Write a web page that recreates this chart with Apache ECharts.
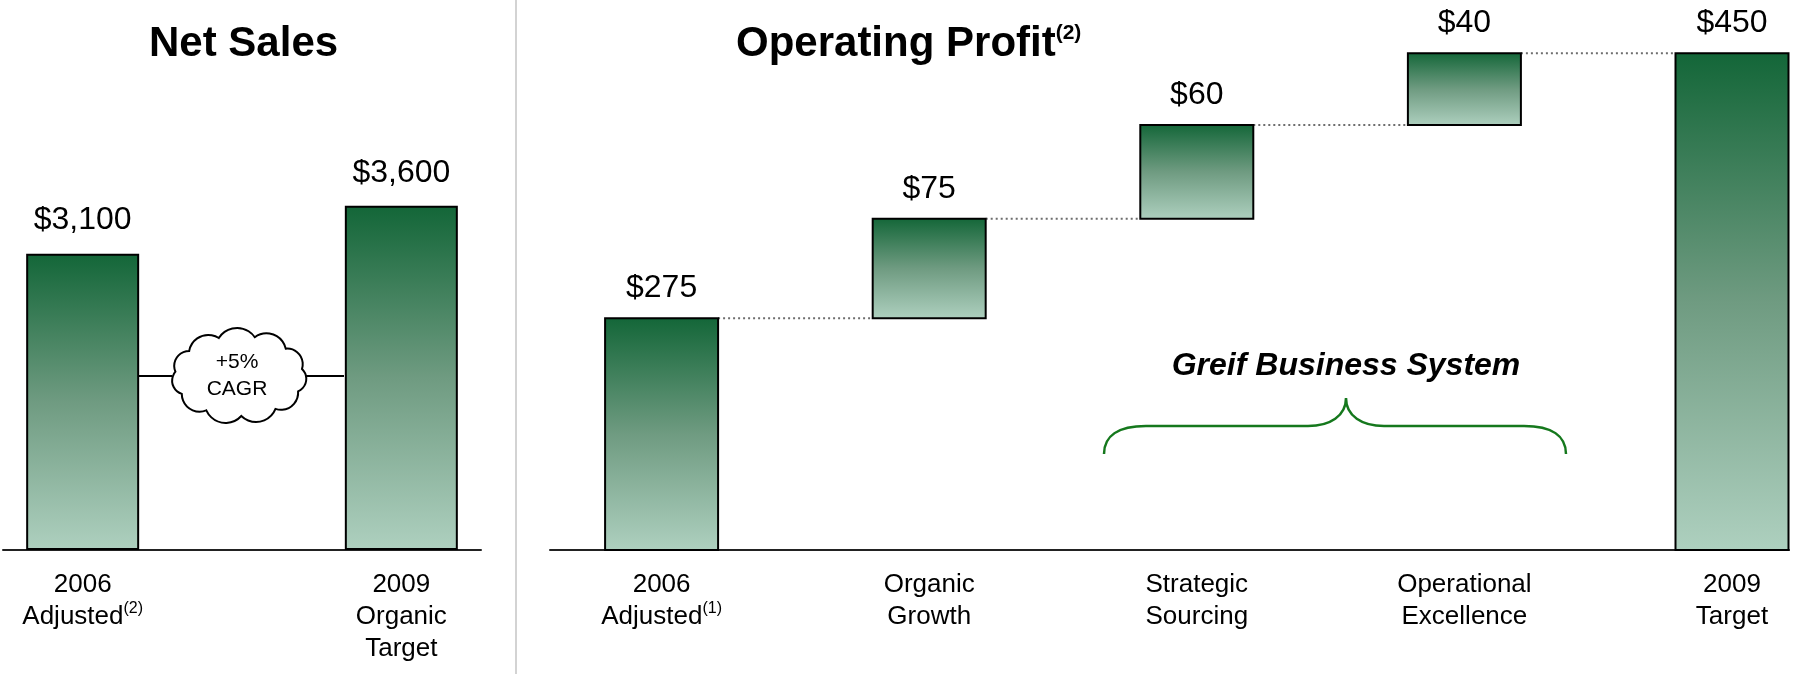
<!DOCTYPE html>
<html>
<head>
<meta charset="utf-8">
<title>Net Sales / Operating Profit</title>
<script src="https://cdn.jsdelivr.net/npm/echarts@6/dist/echarts.min.js"></script>
<style>
  html, body { margin: 0; padding: 0; background: #fff; }
  #chart { width: 1795px; height: 674px; }
</style>
</head>
<body>
<div id="chart"></div>
<script>
// Net Sales ($M) - the middle slot holds the CAGR callout
const salesCategories = ['2006\nAdjusted{sup|(2)}', '', '2009\nOrganic\nTarget'];
const salesValues = [3100, '-', 3600];

// Operating Profit bridge ($M)
const opCategories = ['2006\nAdjusted{sup|(1)}', 'Organic\nGrowth', 'Strategic\nSourcing', 'Operational\nExcellence', '2009\nTarget'];
const opValues = [275, 75, 60, 40, 450];
const opIsTotal = [true, false, false, false, true];
// the slide is not drawn to scale: bar heights
const opDrawnSteps = [210, 90, 85, 65, 450];

const FONT = '"Liberation Sans", Arial, Helvetica, sans-serif';

function barFill() {
  return new echarts.graphic.LinearGradient(0, 0, 0, 1, [
    { offset: 0, color: '#136638' },
    { offset: 0.5, color: '#6f9b81' },
    { offset: 1, color: '#aed0bf' }
  ]);
}

function money(v) {
  return '$' + String(v).replace(/\B(?=(\d{3})+(?!\d))/g, ',');
}

// waterfall rows: [index, low, high, labelValue]
let run = 0;
const opRows = opValues.map((v, i) => {
  let lo, hi;
  if (opIsTotal[i]) {
    lo = 0;
    hi = opDrawnSteps[i];
  } else {
    lo = run;
    hi = run + opDrawnSteps[i];
  }
  run = hi;
  return [i, lo, hi, v];
});

function cloudPath(cx, cy, rx, ry, n) {
  const pts = [];
  for (let k = 0; k < n; k++) {
    const a = -Math.PI / 2 + 0.25 + (2 * Math.PI * k) / n;
    pts.push([cx + rx * Math.cos(a), cy + ry * Math.sin(a)]);
  }
  let d = 'M' + pts[0][0].toFixed(1) + ',' + pts[0][1].toFixed(1);
  for (let k = 0; k < n; k++) {
    const p = pts[k], q = pts[(k + 1) % n];
    const r = Math.hypot(q[0] - p[0], q[1] - p[1]) * 0.6;
    d += ' A' + r.toFixed(1) + ',' + r.toFixed(1) + ' 0 0 1 ' + q[0].toFixed(1) + ',' + q[1].toFixed(1);
  }
  return d + ' Z';
}

const labelRich = {
  sup: { fontSize: 16, fontFamily: FONT, color: '#000', verticalAlign: 'top', lineHeight: 30 }
};

const BAR_W = 113;

const chart = echarts.init(document.getElementById('chart'));
chart.setOption({
  backgroundColor: '#fff',
  animation: false,
  title: [
    {
      text: 'Net Sales',
      left: 149,
      top: 23,
      padding: 0,
      textStyle: { fontSize: 42, fontWeight: 'bold', fontFamily: FONT, color: '#000', lineHeight: 42 }
    },
    {
      text: 'Operating Profit{sup|(2)}',
      left: 736,
      top: 23,
      padding: 0,
      textStyle: {
        fontSize: 42, fontWeight: 'bold', fontFamily: FONT, color: '#000', lineHeight: 42,
        rich: { sup: { fontSize: 21, fontWeight: 'bold', fontFamily: FONT, color: '#000', verticalAlign: 'top', lineHeight: 38 } }
      }
    }
  ],
  grid: [
    { left: 3, width: 478, top: 72, bottom: 124 },
    { left: 550, right: 6, top: 20, bottom: 124 }
  ],
  xAxis: [
    {
      type: 'category',
      gridIndex: 0,
      data: salesCategories,
      axisTick: { show: false },
      axisLine: { lineStyle: { color: '#222', width: 2 } },
      axisLabel: {
        margin: 19, fontSize: 26, lineHeight: 32, color: '#000', fontFamily: FONT,
        interval: 0, rich: labelRich
      }
    },
    {
      type: 'value',
      gridIndex: 1,
      min: -0.417,
      max: 4.213,
      splitLine: { show: false },
      axisTick: { show: false },
      axisLine: { show: true, lineStyle: { color: '#222', width: 2 } },
      axisLabel: {
        customValues: [0, 1, 2, 3, 4],
        formatter: (v) => (Number.isInteger(v) ? opCategories[v] : ''),
        margin: 19, fontSize: 26, lineHeight: 32, color: '#000', fontFamily: FONT,
        rich: labelRich
      }
    }
  ],
  yAxis: [
    { type: 'value', gridIndex: 0, min: 0, max: 5000, show: false },
    { type: 'value', gridIndex: 1, min: 0, max: 480, show: false }
  ],
  series: [
    {
      name: 'Net Sales',
      type: 'bar',
      xAxisIndex: 0,
      yAxisIndex: 0,
      barWidth: BAR_W,
      data: salesValues,
      itemStyle: { color: barFill(), borderColor: '#000', borderWidth: 2 },
      label: {
        show: true, position: 'top', distance: 17,
        fontSize: 32, color: '#000', fontFamily: FONT,
        formatter: (p) => money(p.value)
      }
    },
    {
      name: 'Operating Profit',
      type: 'custom',
      xAxisIndex: 1,
      yAxisIndex: 1,
      data: opRows,
      encode: { x: 0, y: [1, 2] },
      renderItem: (params, api) => {
        const i = api.value(0);
        const hi = api.value(2);
        const top = api.coord([i, hi]);
        const bot = api.coord([i, api.value(1)]);
        const kids = [];
        if (i < opValues.length - 1) {
          const next = api.coord([i + 1, hi]);
          kids.push({
            type: 'line',
            shape: { x1: top[0] + BAR_W / 2, y1: top[1], x2: next[0] - BAR_W / 2, y2: top[1] },
            style: { stroke: '#6e6e6e', lineWidth: 2, lineDash: [2, 3] }
          });
        }
        kids.push({
          type: 'rect',
          shape: { x: top[0] - BAR_W / 2, y: top[1], width: BAR_W, height: bot[1] - top[1] },
          style: { fill: barFill(), stroke: '#000', lineWidth: 2 }
        });
        kids.push({
          type: 'text',
          x: top[0],
          y: top[1] - 14,
          style: {
            text: money(api.value(3)), fill: '#000',
            fontSize: 32, fontFamily: FONT, align: 'center', verticalAlign: 'bottom', lineHeight: 32
          }
        });
        return { type: 'group', children: kids };
      }
    },
    {
      // slide annotations: CAGR cloud and the Greif Business System brace
      name: 'Annotations',
      type: 'custom',
      coordinateSystem: 'none',
      silent: true,
      data: [0],
      renderItem: () => ({
        type: 'group',
        children: [
          { type: 'line', shape: { x1: 139, y1: 376, x2: 172, y2: 376 }, style: { stroke: '#000', lineWidth: 2 } },
          { type: 'line', shape: { x1: 306, y1: 376, x2: 344, y2: 376 }, style: { stroke: '#000', lineWidth: 2 } },
          {
            type: 'path',
            shape: { pathData: cloudPath(239, 376, 64, 40, 11) },
            style: { fill: '#fff', stroke: '#000', lineWidth: 2 }
          },
          {
            type: 'text', x: 237, y: 376,
            style: { text: '+5%\nCAGR', fontSize: 21, fontFamily: FONT, fill: '#000', lineHeight: 27, align: 'center', verticalAlign: 'middle' }
          },
          {
            type: 'text', x: 1346, y: 366,
            style: {
              text: 'Greif Business System', fontSize: 32, fontWeight: 'bold', fontStyle: 'italic',
              fontFamily: FONT, fill: '#000', align: 'center', verticalAlign: 'middle'
            }
          },
          {
            type: 'path',
            shape: {
              pathData: 'M1104,454 C1104,436 1118,426 1146,426 L1308,426 C1330,426 1346,416 1346,398 ' +
                        'C1346,416 1362,426 1384,426 L1524,426 C1552,426 1566,436 1566,454'
            },
            style: { fill: 'none', stroke: '#15781d', lineWidth: 2.5 }
          }
        ]
      })
    }
  ],
  graphic: [
    // divider between the two panels
    { type: 'line', shape: { x1: 516, y1: 0, x2: 516, y2: 674 }, style: { stroke: '#d3d3d3', lineWidth: 2 } }
  ]
});
</script>
</body>
</html>
